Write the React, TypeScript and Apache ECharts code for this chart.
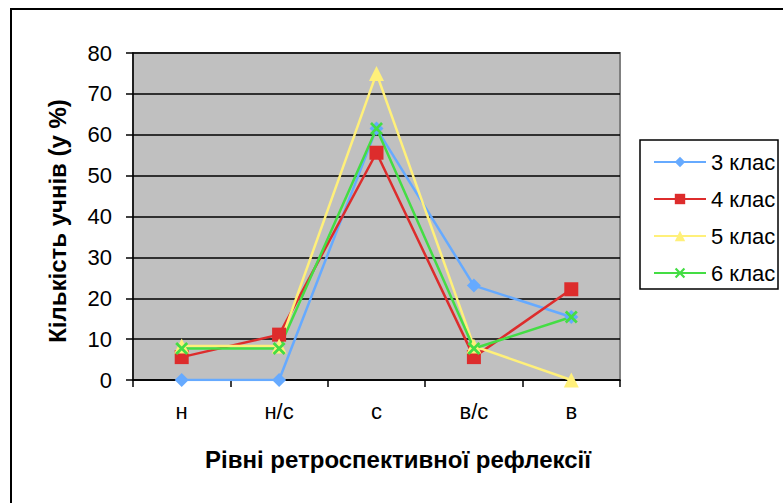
import React, { useEffect, useRef } from "react";
import * as echarts from "echarts";

const categories = ["н", "н/с", "с", "в/с", "в"];
const yTicks = [0, 10, 20, 30, 40, 50, 60, 70, 80];
const seriesNames = ["3 клас", "4 клас", "5 клас", "6 клас"];
const class3 = [0, 0, 61.5, 23.1, 15.4];
const class4 = [5.6, 11.1, 55.6, 5.6, 22.2];
const class5 = [8.3, 8.3, 75, 8.3, 0];
const class6 = [7.7, 7.7, 61.5, 7.7, 15.4];

const FONT = "'Liberation Sans', Arial, sans-serif";
const CROSS =
  "path://M1.5,0L5,3.5L8.5,0L10,1.5L6.5,5L10,8.5L8.5,10L5,6.5L1.5,10L0,8.5L3.5,5L0,1.5Z";

export default function App() {
  const ref = useRef<HTMLDivElement>(null);
  useEffect(() => {
    if (!ref.current) return;
    const chart = echarts.init(ref.current, null, { renderer: "svg" });
    const mk = (name: string, data: number[], color: string, symbol: string, size: number) => ({
      name,
      type: "line",
      data,
      symbol,
      symbolSize: size,
      lineStyle: { color, width: 2.5 },
      itemStyle: { color },
      z: 3,
    });
    chart.setOption({
      animation: false,
      backgroundColor: "#ffffff",
      textStyle: { fontFamily: FONT },
      grid: {
        left: 133,
        top: 53,
        right: 163,
        bottom: 123,
        show: true,
        backgroundColor: "#c0c0c0",
        borderColor: "#808080",
        borderWidth: 2,
      },
      legend: {
        orient: "vertical",
        left: 653,
        top: 151,
        itemWidth: 52,
        itemHeight: 13,
        itemGap: 15,
        padding: 0,
        textStyle: { fontSize: 22, color: "#000", fontFamily: FONT, lineHeight: 22 },
        data: seriesNames,
      },
      xAxis: {
        type: "category",
        data: categories,
        boundaryGap: true,
        axisLine: { lineStyle: { color: "#000", width: 1.5 } },
        axisTick: { show: true, interval: 0, length: 7, lineStyle: { color: "#000", width: 1.5 } },
        axisLabel: { fontSize: 22, color: "#000", margin: 20, fontFamily: FONT },
        splitLine: { show: false },
        z: 2,
      },
      yAxis: {
        type: "value",
        min: yTicks[0],
        max: yTicks[yTicks.length - 1],
        interval: 10,
        axisLine: { show: true, lineStyle: { color: "#000", width: 1.5 } },
        axisTick: { show: true, length: 7, lineStyle: { color: "#000", width: 1.5 } },
        axisLabel: { fontSize: 22, color: "#000", margin: 21, fontFamily: FONT },
        splitLine: { show: true, lineStyle: { color: "#000", width: 1.5 } },
        z: 2,
      },
      graphic: [
        {
          type: "rect",
          shape: { x: 11, y: 9, width: 1000, height: 1000 },
          style: { fill: "none", stroke: "#000", lineWidth: 2 },
          z: 0,
        },
        {
          type: "rect",
          shape: { x: 640, y: 140, width: 138, height: 149 },
          style: { fill: "#fff", stroke: "#000", lineWidth: 1.5 },
          z: -1,
        },
        {
          type: "text",
          x: 57,
          y: 221,
          rotation: Math.PI / 2,
          style: {
            text: "Кількість учнів (у %)",
            fontSize: 24,
            fontWeight: "bold",
            fontFamily: FONT,
            fill: "#000",
            align: "center",
            verticalAlign: "middle",
          },
        },
        {
          type: "text",
          x: 398,
          y: 459,
          style: {
            text: "Рівні ретроспективної рефлексії",
            fontSize: 24,
            fontWeight: "bold",
            fontFamily: FONT,
            fill: "#000",
            align: "center",
            verticalAlign: "middle",
          },
        },
      ],
      series: [
        mk(seriesNames[0], class3, "#66aaff", "diamond", 14),
        mk(seriesNames[1], class4, "#dd2c2c", "rect", 14),
        mk(seriesNames[2], class5, "#fff07a", "triangle", 15),
        mk(seriesNames[3], class6, "#44dd44", CROSS, 13),
      ],
    });
    return () => chart.dispose();
  }, []);
  return (
    <div
      ref={ref}
      style={{ position: "fixed", left: 0, top: 0, width: 783, height: 503 }}
    />
  );
}
